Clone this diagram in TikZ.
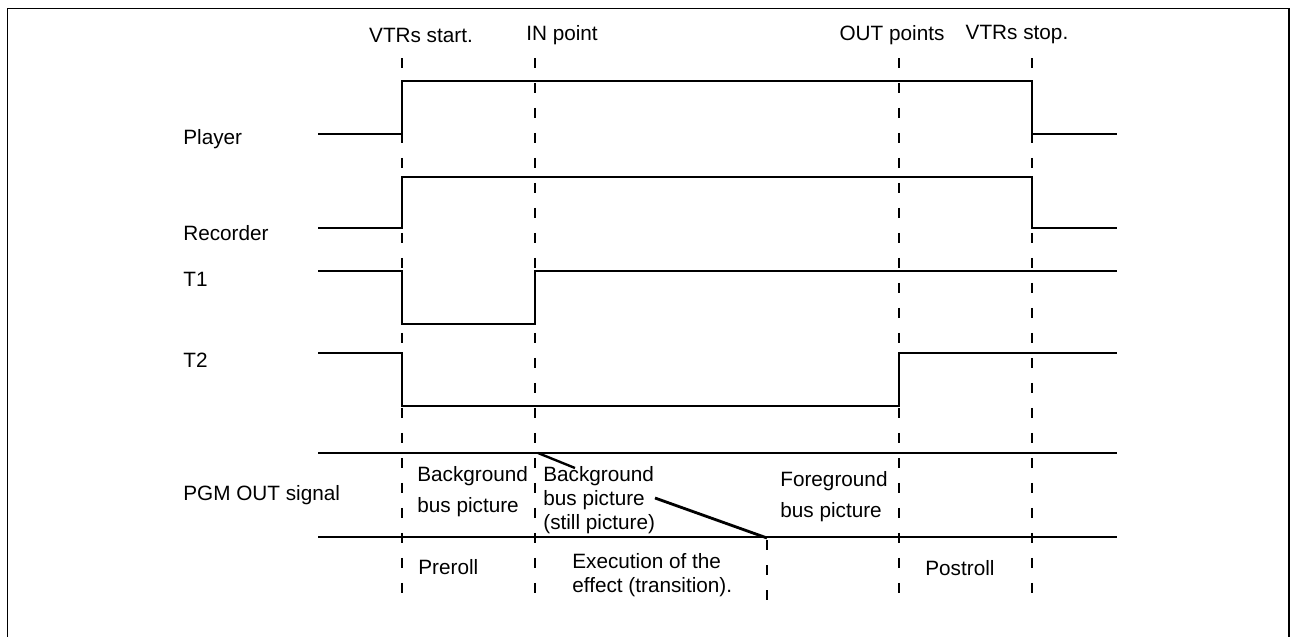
\documentclass[tikz,border=0pt]{standalone}
\usepackage{fontspec}
\setmainfont{Liberation Sans}
\usetikzlibrary{positioning}
\begin{document}
\begin{tikzpicture}[x=0.02cm,y=-0.02cm,every node/.style={font=\fontsize{11.8}{13.6}\selectfont,inner sep=0pt},
  sig/.style={line width=1.35pt},
  timeline/.style={line width=1.1pt,dash pattern=on 0.2cm off 0.3cm}]
\useasboundingbox (0,0) rectangle (1297,636);
\draw[line width=0.9pt] (7.5,640) -- (7.5,8.5) -- (1289,8.5) -- (1289,640);
% time marks
\foreach \t in {402,535,899,1032} \draw[timeline] (\t,58) -- (\t,597);
\draw[timeline] (767,540) -- (767,613);
\node (vstart) at (421,35) {VTRs start.};
\node (inpt) at (562,35) {IN point};
\node (outpt) at (892,35) {OUT points};
\node (vstop) at (1017,35) {VTRs stop.};
% signals
\node[anchor=west] (player) at (183,139) {Player};
\node[anchor=west] (rec) at (183,233.5) {Recorder};
\node[anchor=west] (tone) at (183,279) {T1};
\node[anchor=west] (ttwo) at (183,360) {T2};
\node[anchor=west] (pgm) at (183,495) {PGM OUT signal};
\draw[sig] (318,134) -- (402,134) -- (402,81) -- (1032,81) -- (1032,134) -- (1117,134);
\draw[sig] (318,228) -- (402,228) -- (402,177) -- (1032,177) -- (1032,228) -- (1117,228);
\draw[sig] (318,271) -- (402,271) -- (402,324) -- (535,324) -- (535,271) -- (1117,271);
\draw[sig] (318,353) -- (402,353) -- (402,406) -- (899,406) -- (899,353) -- (1117,353);
\draw[sig] (318,453) -- (1117,453);
\draw[sig] (318,537) -- (1117,537);
% pgm out contents
\node[anchor=west,align=left,font=\fontsize{11.8}{17.6}\selectfont] (bgbus) at (417,492) {Background\\bus picture};
\node[anchor=west,align=left] (bgstill) at (543,500) {Background\\bus picture\\(still picture)};
\node[anchor=west,align=left,font=\fontsize{11.8}{17.6}\selectfont] (fgbus) at (780,497) {Foreground\\bus picture};
\coordinate (d1a) at (538,453);
\coordinate (d1b) at (575,468);
\coordinate (d2a) at (655,498);
\coordinate (d2b) at (767,538);
\draw[sig] (d1a) -- (d1b);
\draw[line width=1.6pt] (d2a) -- (d2b);
% phases
\node[anchor=west] (preroll) at (418,567) {Preroll};
\node[anchor=west,align=left] (exec) at (572,575) {Execution of the\\effect (transition).};
\node[anchor=west] (postroll) at (925,568) {Postroll};
\end{tikzpicture}
\end{document}
